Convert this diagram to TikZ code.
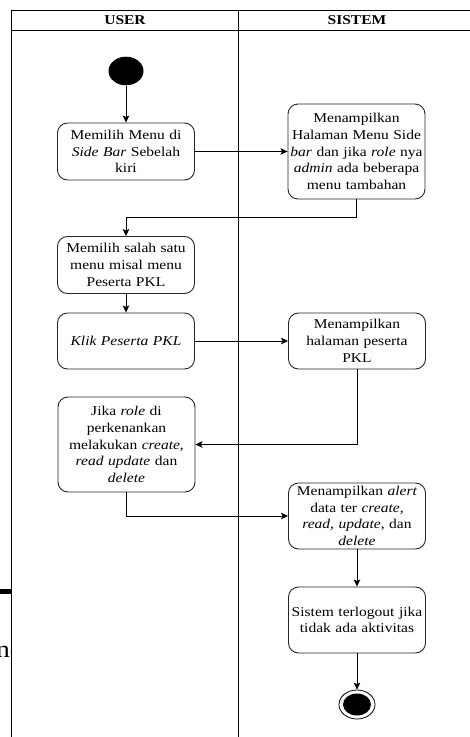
\documentclass[tikz,border=0pt]{standalone}
\usepackage{fontspec}
\setmainfont{Liberation Serif}[FakeStretch=1.15]
\usetikzlibrary{arrows.meta,shapes.geometric}

\begin{document}
\begin{tikzpicture}[x=1pt,y=-1pt,
  act/.style={draw=black!85, line width=0.9pt, rounded corners=10pt,
    text width=135pt, inner xsep=1pt, inner ysep=0pt, align=center,
    font=\fontsize{13.5}{16.7}\selectfont},
  flow/.style={draw, line width=0.9pt,
    -{Stealth[length=7pt,width=6.5pt,inset=1.5pt]}},
  lane/.style={line width=0.9pt},
  head/.style={font=\bfseries\fontsize{13.5}{16}\selectfont}]

\useasboundingbox (0,0) rectangle (470,737);

% page text showing at the left margin
\fill (0,589) rectangle (11,594);
\node[anchor=base west, inner sep=0pt, font=\fontsize{24}{24}\selectfont] (frag) at (-4,657) {ne};

% swimlane table
\fill[white] (11,10) rectangle (472,739);
\draw[lane] (11,10) -- (472,10);
\draw[lane] (11,30) -- (472,30);
\draw[lane] (11,10) -- (11,739);
\draw[lane] (238,10) -- (238,739);
\node[head] (huser) at (125,20) {USER};
\node[head] (hsys) at (357,20) {SISTEM};

% start and end
\node[ellipse, fill, minimum width=35pt, minimum height=28.6pt, inner sep=0pt] (start) at (126,71) {};
\node[ellipse, draw, line width=0.8pt, minimum width=36pt, minimum height=29pt, inner sep=0pt] (stop) at (357,704.5) {};
\node[ellipse, fill, minimum width=28pt, minimum height=22pt, inner sep=0pt] (stopin) at (357,704.5) {};

% USER activities
\node[act, minimum height=57pt] (m1) at (126,151.5) {Memilih Menu di\\\textit{Side Bar} Sebelah\\kiri};
\node[act, minimum height=57pt] (m2) at (126,265) {Memilih salah satu\\menu misal menu\\Peserta PKL};
\node[act, minimum height=56pt] (m3) at (126,341) {\textit{Klik Peserta PKL}};
\node[act, minimum height=95pt] (m4) at (126.5,444.5) {Jika \textit{role} di\\perkenankan\\melakukan \textit{create,}\\\textit{read update} dan\\\textit{delete}};

% SISTEM activities
\node[act, minimum height=95pt] (s1) at (356.5,151.5) {Menampilkan\\Halaman Menu Side\\\textit{bar} dan jika \textit{role} nya\\\textit{admin} ada beberapa\\menu tambahan};
\node[act, minimum height=56pt] (s2) at (357,341) {Menampilkan\\halaman peserta\\PKL};
\node[act, minimum height=66pt] (s3) at (357,516) {Menampilkan \textit{alert}\\data ter \textit{create,}\\\textit{read, update}, dan\\\textit{delete}};
\node[act, minimum height=66pt] (s4) at (357,620) {Sistem terlogout jika\\tidak ada aktivitas};

% flow
\draw[flow] (start) -- (m1);
\draw[flow] (m1) -- (s1);
\draw[flow] (s1.south) -- ++(0,18) -| (m2.north);
\draw[flow] (m2) -- (m3);
\draw[flow] (m3) -- (s2);
\draw[flow] (s2.south) |- (m4.east);
\draw[flow] (m4.south) |- (s3.west);
\draw[flow] (s3) -- (s4);
\draw[flow] (s4) -- (stop);
\end{tikzpicture}
\end{document}
